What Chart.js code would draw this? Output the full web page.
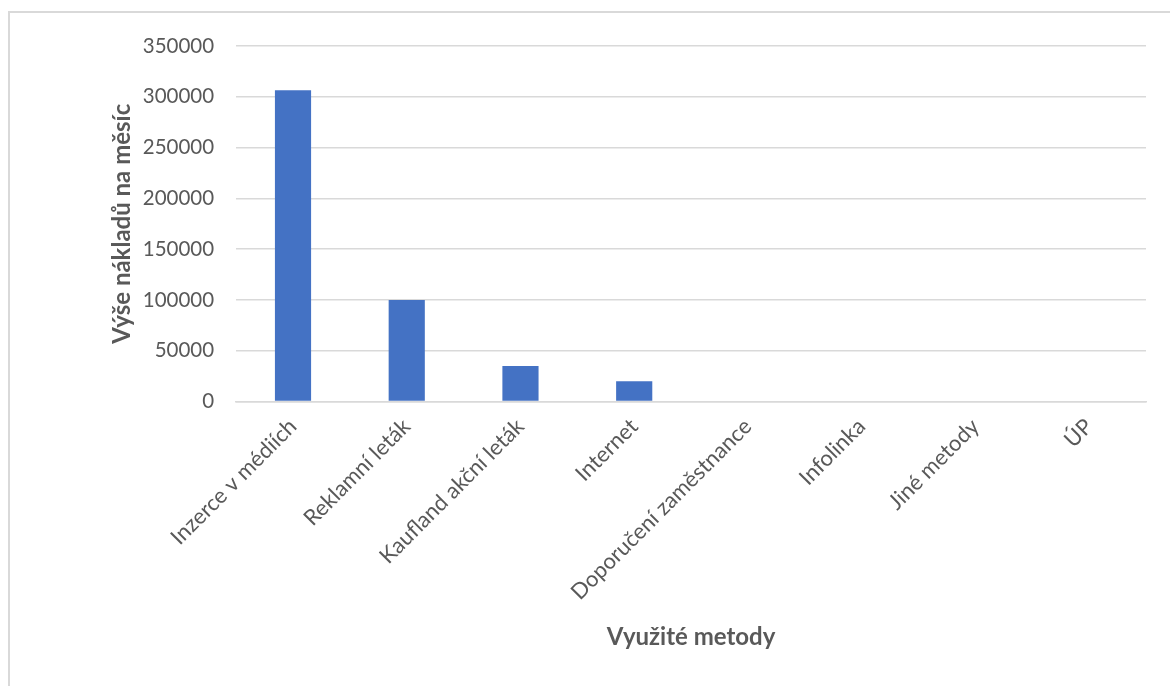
<!DOCTYPE html>
<html>
<head>
<meta charset="utf-8">
<script src="https://cdn.jsdelivr.net/npm/chart.js@4"></script>
<style>
  body { margin: 0; background: #fff; overflow: hidden; }
  #frame { position: absolute; left: 8px; top: 11px; width: 1200px; height: 700px; border-left: 2px solid #d9d9d9; border-top: 2px solid #d9d9d9; }
  #c { position: absolute; left: 8px; top: 8px; }
</style>
</head>
<body>
<div id="frame"></div>
<canvas id="c" width="1160" height="676"></canvas>
<script>
var categories = ['Inzerce v médiích', 'Reklamní leták', 'Kaufland akční leták', 'Internet',
                  'Doporučení zaměstnance', 'Infolinka', 'Jiné metody', 'ÚP'];
var costs = [306500, 100000, 35000, 20000, 0, 0, 0, 0];
var xTitle = 'Využité metody';
var yTitle = 'Výše nákladů na měsíc';

var font = 'Lato, "Open Sans", sans-serif';
var ctx = document.getElementById('c').getContext('2d');
var myChart = new Chart(ctx, {
    type: 'bar',
    data: {
        labels: categories,
        datasets: [{
            label: 'Náklady',
            data: costs,
            backgroundColor: '#4472c4',
            barPercentage: 0.6,
            categoryPercentage: 0.53
        }]
    },
    options: {
        responsive: false,
        animation: false,
        layout: { padding: { top: 38, right: 22, left: 96, bottom: 28 } },
        plugins: { legend: { display: false }, tooltip: { enabled: false } },
        scales: {
            x: {
                grid: { display: false },
                border: { color: '#d9d9d9', width: 1.5 },
                ticks: { color: '#595959', font: { family: font, size: 22 }, minRotation: 45, maxRotation: 45, padding: 4 },
                title: { display: true, text: xTitle, color: '#595959', font: { family: font, size: 24, weight: 'bold' }, padding: { top: 14, bottom: 4 } }
            },
            y: {
                min: 0, max: 350000,
                ticks: {
                    stepSize: 50000, color: '#595959', font: { family: font, size: 20.5 }, padding: 22,
                    callback: function (v) { return String(v); }
                },
                grid: { color: '#d9d9d9', lineWidth: 1.5, drawTicks: false },
                border: { display: false },
                title: { display: true, text: yTitle, color: '#595959', font: { family: font, size: 24, weight: 'bold' }, padding: { top: 4, bottom: 6 } },
                // chart.js counts tick padding twice in the width, take one back
                afterFit: function (s) { s.width -= 22; }
            }
        }
    }
});
</script>
</body>
</html>
